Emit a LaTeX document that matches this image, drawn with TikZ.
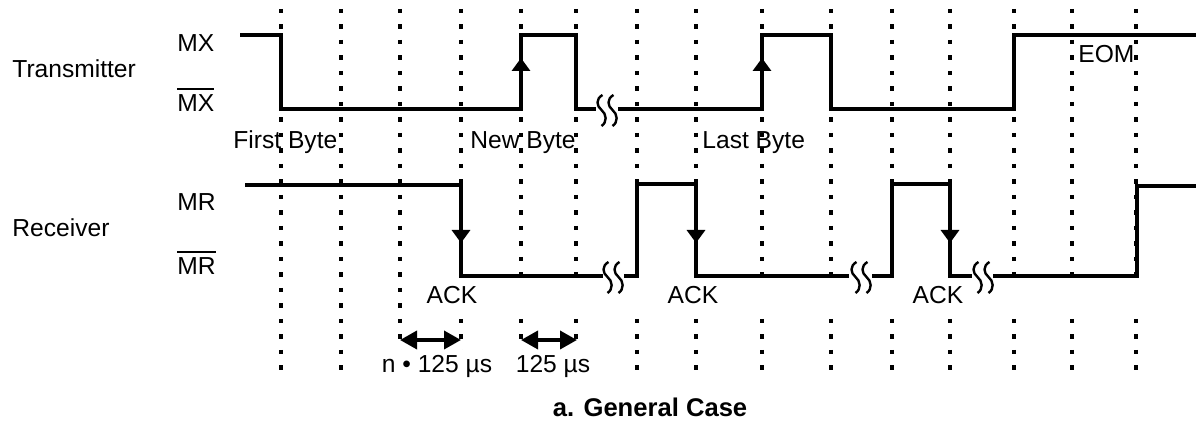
\documentclass[tikz,border=0pt]{standalone}
\usepackage{fontspec}
\setmainfont{Liberation Sans}
\usetikzlibrary{arrows.meta}

\newcommand{\barred}[1]{\vbox{\hrule height 1pt\kern 2.4pt\hbox{#1}}}

\tikzset{
	brk/.pic={
		\draw[brkline] (-4.5,-15) .. controls (-11.5,-11) and (-10.5,-4) .. (-5.5,0) .. controls (-0.5,4) and (0.5,12) .. (-5.5,16);
		\draw[brkline] (6.5,-15) .. controls (-0.5,-11) and (0.5,-4) .. (5.5,0) .. controls (10.5,4) and (11.5,12) .. (5.5,16);
	}
}

\begin{document}
\begin{tikzpicture}[x=0.5pt, y=-0.5pt,
		sig/.style={line width=1.8pt},
		grid/.style={line width=1.8pt, dash pattern=on 2.2pt off 5.55pt},
		brkline/.style={line width=1.2pt},
		lbl/.style={inner sep=0pt, anchor=base west, font=\fontsize{12.3}{14}\selectfont},
		edgearr/.style={line width=1.8pt, -{Triangle[length=6.5pt, width=9pt]}},
		dur/.style={line width=1.8pt, {Triangle[length=8.5pt, width=9pt]}-{Triangle[length=8.5pt, width=9pt]}}]
	\useasboundingbox (0,0) rectangle (1198,426);
	
	% dotted time grid
	\foreach \x in {281,341,400}
		\draw[grid] (\x,9) -- (\x,372);
	\foreach \x in {461,521,576,637,696,762,831,892,950,1014,1072,1136}{
		\draw[grid] (\x,9) -- (\x,280);
		\draw[grid] (\x,319) -- (\x,372);
	}
	
	% transmitter
	\draw[sig] (240,35) -- (281,35) -- (281,109) -- (521,109) -- (521,35) -- (576,35) -- (576,109) -- (596,109);
	\draw[sig] (618,109) -- (762,109) -- (762,35) -- (831,35) -- (831,109) -- (1014,109) -- (1014,35) -- (1196,35);
	\pic at (607,110) {brk};
	\draw[edgearr] (521,100) -- (521,58);
	\draw[edgearr] (762,100) -- (762,58);
	
	% receiver
	\draw[sig] (245,185) -- (461,185) -- (461,276) -- (603,276);
	\draw[sig] (624,276) -- (637,276) -- (637,184) -- (696,184) -- (696,276) -- (849,276);
	\draw[sig] (872,276) -- (892,276) -- (892,184) -- (950,184) -- (950,276) -- (972,276);
	\draw[sig] (993,276) -- (1137,276) -- (1137,186) -- (1196,186);
	\pic at (613,277) {brk};
	\pic at (861,277) {brk};
	\pic at (983,277) {brk};
	\draw[edgearr] (461,195) -- (461,243);
	\draw[edgearr] (696,195) -- (696,243);
	\draw[edgearr] (950,195) -- (950,243);
	
	% timing
	\draw[dur] (400,340) -- (461,340);
	\draw[dur] (521,340) -- (577,340);
	
	% labels
	\node[lbl] (tx) at (12,78) {Transmitter};
	\node[lbl] (mx) at (177,52) {MX};
	\node[lbl] (nmx) at (177,112) {\barred{MX}};
	\node[lbl] (rx) at (12,237) {Receiver};
	\node[lbl] (mr) at (177,211) {MR};
	\node[lbl] (nmr) at (177,275) {\barred{MR}};
	\node[lbl] (fb) at (233,149) {First Byte};
	\node[lbl] (nb) at (470,149) {New Byte};
	\node[lbl] (lb) at (702,149) {Last Byte};
	\node[lbl] (eom) at (1078,63) {EOM};
	\node[lbl, anchor=base] (ack1) at (452,304) {ACK};
	\node[lbl, anchor=base] (ack2) at (693,304) {ACK};
	\node[lbl, anchor=base] (ack3) at (938,304) {ACK};
	\node[lbl, anchor=base, fill=white, inner sep=3pt] (t1) at (437,373) {n • 125 µs};
	\node[lbl, anchor=base, fill=white, inner sep=3pt] (t2) at (553,373) {125 µs};
	\node[lbl, anchor=base, font=\fontsize{12.8}{15}\selectfont\bfseries] (cap) at (650,417) {a. General Case};
\end{tikzpicture}
\end{document}
